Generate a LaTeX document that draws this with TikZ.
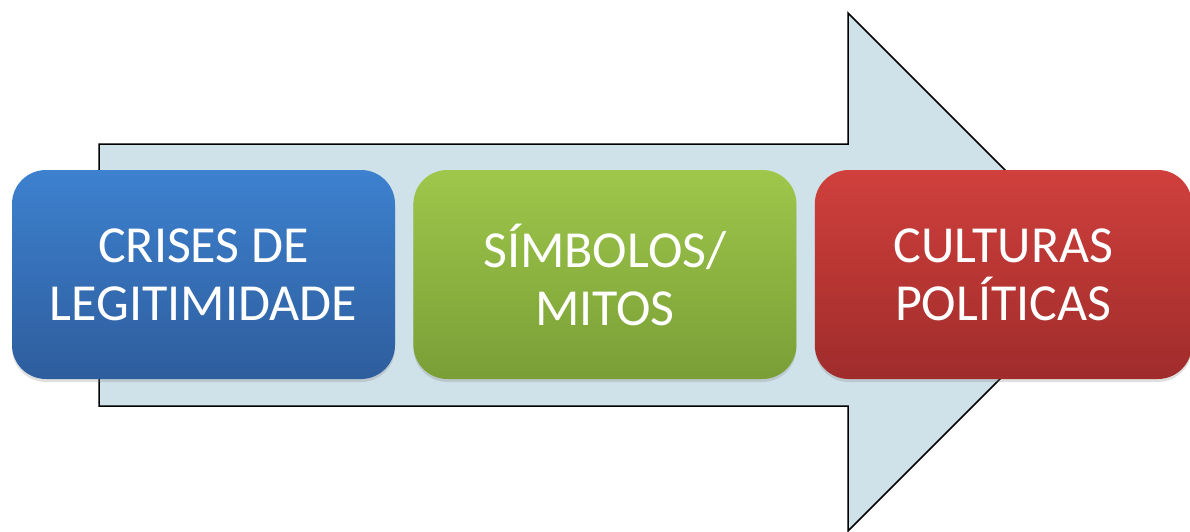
\documentclass[tikz,border=0pt]{standalone}
\usepackage{fontspec}
\setmainfont{Carlito}
\usetikzlibrary{positioning, shadows}
\definecolor{setacol}{RGB}{208, 226, 233}
\definecolor{azultop}{RGB}{61, 129, 207}
\definecolor{azulbot}{RGB}{46, 93, 157}
\definecolor{verdetop}{RGB}{158, 199, 75}
\definecolor{verdebot}{RGB}{122, 158, 54}
\definecolor{vermtop}{RGB}{208, 64, 60}
\definecolor{vermbot}{RGB}{159, 44, 43}
\tikzset{
  seta/.style   = {draw=black, line width=1.5pt, fill=setacol, line join=miter},
  etapa/.style  = {rounded corners=34pt, minimum width=383pt, minimum height=209pt,
                   inner sep=0pt, align=center, text=white,
                   font=\fontsize{52}{58}\selectfont,
                   drop shadow={opacity=0.25, shadow xshift=0pt, shadow yshift=-3pt}},
  crise/.style  = {etapa, top color=azultop, bottom color=azulbot},
  simbolo/.style = {etapa, top color=verdetop, bottom color=verdebot},
  cultura/.style = {etapa, top color=vermtop, bottom color=vermbot,
                    minimum width=377pt},
}

\begin{document}
\begin{tikzpicture}[x=1pt, y=-1pt]
  \useasboundingbox (0,0) rectangle (1190,532);

  %% ---------------- the big arrow behind ----------------
  \draw[seta] (99,144) -- (848,144) -- (848,13) -- (1107,272)
              -- (848,531) -- (848,406) -- (99,406) -- cycle;

  %% ---------------- the three stages ----------------
  \node[crise] (crises) at (203.5,274.5) {CRISES DE\\LEGITIMIDADE};
  \node[simbolo, right=18pt of crises] (simbolos) {SÍMBOLOS/\\MITOS};
  \node[cultura, right=18pt of simbolos] (culturas) {CULTURAS\\POLÍTICAS};

\end{tikzpicture}
\end{document}
